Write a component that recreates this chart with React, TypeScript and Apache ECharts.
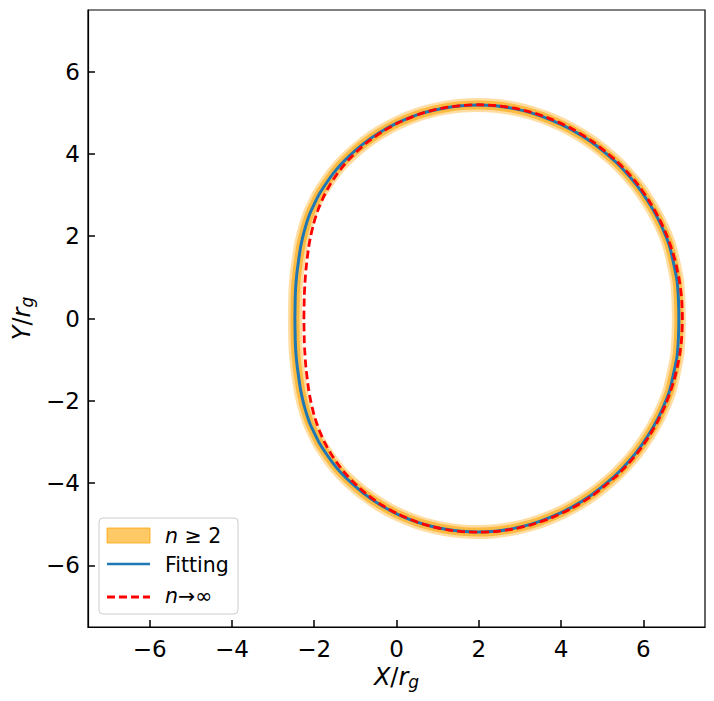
import React, { useEffect, useRef } from 'react';
import * as echarts from 'echarts';

const FONT = 'DejaVu Sans';

// tick labels (both axes)
const tickValues = [-6, -4, -2, 0, 2, 4, 6];

// n >= 2 band (centre line of the orange band)
const bandX = [-2.47, -2.462, -2.45, -2.43, -2.41, -2.335, -2.27, -2.21, -2.15, -2.09, -2.02, -1.88, -1.72, -1.55, -1.36, -1.15, -0.80, -0.41, 0.03, 0.50, 0.845, 1.205, 1.585, 1.98, 2.395, 2.825, 3.278, 3.75, 4.243, 4.756, 5.288, 5.562, 5.84, 6.12, 6.35, 6.52, 6.635, 6.725, 6.805, 6.83, 6.855, 6.865,
  6.855, 6.83, 6.805, 6.725, 6.635, 6.52, 6.35, 6.12, 5.84, 5.562, 5.288, 4.756, 4.243, 3.75, 3.278, 2.825, 2.395, 1.98, 1.585, 1.205, 0.845, 0.50, 0.03, -0.41, -0.80, -1.15, -1.36, -1.55, -1.72, -1.88, -2.02, -2.09, -2.15, -2.21, -2.27, -2.335, -2.41, -2.43, -2.45, -2.462, -2.47];
const bandY = [0, 0.525, 0.78, 1.02, 1.195, 1.715, 2.02, 2.24, 2.43, 2.59, 2.74, 3.02, 3.27, 3.51, 3.74, 3.95, 4.25, 4.52, 4.76, 4.95, 5.05, 5.125, 5.175, 5.19, 5.17, 5.108, 5.00, 4.83, 4.597, 4.278, 3.845, 3.57, 3.243, 2.84, 2.44, 2.07, 1.77, 1.395, 1.01, 0.84, 0.447, 0,
  -0.447, -0.84, -1.01, -1.395, -1.77, -2.07, -2.44, -2.84, -3.243, -3.57, -3.845, -4.278, -4.597, -4.83, -5.00, -5.108, -5.17, -5.19, -5.175, -5.125, -5.05, -4.95, -4.76, -4.52, -4.25, -3.95, -3.74, -3.51, -3.27, -3.02, -2.74, -2.59, -2.43, -2.24, -2.02, -1.715, -1.195, -1.02, -0.78, -0.525, 0];

// Fitting
const fitX = [-2.47, -2.462, -2.45, -2.43, -2.41, -2.335, -2.27, -2.21, -2.15, -2.09, -2.02, -1.88, -1.72, -1.55, -1.36, -1.15, -0.80, -0.41, 0.03, 0.50, 0.845, 1.205, 1.585, 1.98, 2.395, 2.825, 3.278, 3.75, 4.243, 4.756, 5.288, 5.562, 5.84, 6.12, 6.35, 6.52, 6.635, 6.725, 6.805, 6.83, 6.855, 6.865,
  6.855, 6.83, 6.805, 6.725, 6.635, 6.52, 6.35, 6.12, 5.84, 5.562, 5.288, 4.756, 4.243, 3.75, 3.278, 2.825, 2.395, 1.98, 1.585, 1.205, 0.845, 0.50, 0.03, -0.41, -0.80, -1.15, -1.36, -1.55, -1.72, -1.88, -2.02, -2.09, -2.15, -2.21, -2.27, -2.335, -2.41, -2.43, -2.45, -2.462, -2.47];
const fitY = [0, 0.525, 0.78, 1.02, 1.195, 1.715, 2.02, 2.24, 2.43, 2.59, 2.74, 3.02, 3.27, 3.51, 3.74, 3.95, 4.25, 4.52, 4.76, 4.95, 5.05, 5.125, 5.175, 5.19, 5.17, 5.108, 5.00, 4.83, 4.597, 4.278, 3.845, 3.57, 3.243, 2.84, 2.44, 2.07, 1.77, 1.395, 1.01, 0.84, 0.447, 0,
  -0.447, -0.84, -1.01, -1.395, -1.77, -2.07, -2.44, -2.84, -3.243, -3.57, -3.845, -4.278, -4.597, -4.83, -5.00, -5.108, -5.17, -5.19, -5.175, -5.125, -5.05, -4.95, -4.76, -4.52, -4.25, -3.95, -3.74, -3.51, -3.27, -3.02, -2.74, -2.59, -2.43, -2.24, -2.02, -1.715, -1.195, -1.02, -0.78, -0.525, 0];

// n -> infinity
const limX = [-2.252, -2.242, -2.231, -2.215, -2.201, -2.138, -2.083, -2.031, -1.979, -1.925, -1.868, -1.744, -1.603, -1.444, -1.267, -1.070, -0.739, -0.364, 0.056, 0.520, 0.855, 1.210, 1.585, 1.980, 2.395, 2.830, 3.286, 3.761, 4.257, 4.773, 5.308, 5.584, 5.865, 6.143, 6.372, 6.545, 6.66, 6.775, 6.86, 6.89, 6.935, 6.95,
  6.935, 6.89, 6.86, 6.775, 6.66, 6.545, 6.372, 6.143, 5.865, 5.584, 5.308, 4.773, 4.257, 3.761, 3.286, 2.830, 2.395, 1.980, 1.585, 1.210, 0.855, 0.520, 0.056, -0.364, -0.739, -1.070, -1.267, -1.444, -1.603, -1.744, -1.868, -1.925, -1.979, -2.031, -2.083, -2.138, -2.201, -2.215, -2.231, -2.242, -2.252];
const limY = [0, 0.525, 0.781, 1.020, 1.195, 1.715, 2.017, 2.241, 2.426, 2.590, 2.741, 3.018, 3.273, 3.514, 3.743, 3.959, 4.260, 4.530, 4.763, 4.955, 5.055, 5.131, 5.179, 5.196, 5.178, 5.118, 5.012, 4.848, 4.617, 4.299, 3.865, 3.590, 3.260, 2.857, 2.456, 2.084, 1.780, 1.400, 1.013, 0.843, 0.447, 0,
  -0.447, -0.843, -1.013, -1.400, -1.780, -2.084, -2.456, -2.857, -3.260, -3.590, -3.865, -4.299, -4.617, -4.848, -5.012, -5.118, -5.178, -5.196, -5.179, -5.131, -5.055, -4.955, -4.763, -4.530, -4.260, -3.959, -3.743, -3.514, -3.273, -3.018, -2.741, -2.590, -2.426, -2.241, -2.017, -1.715, -1.195, -1.020, -0.781, -0.525, 0];

const pairs = (xs: number[], ys: number[]) => xs.map((x, i) => [x, ys[i]]);

const nameRich = {
  i: { fontStyle: 'italic', fontSize: 24, fontFamily: FONT, color: '#000' },
  t: { fontSize: 24, fontFamily: FONT, color: '#000' },
  s: { fontStyle: 'italic', fontSize: 17, fontFamily: FONT, color: '#000', verticalAlign: 'bottom', padding: [10, 0, 0, 0] },
};

const axisCommon = (name: string, isY: boolean) => ({
  type: 'value',
  min: -7.5,
  max: 7.5,
  name,
  nameLocation: 'middle',
  nameGap: isY ? 50 : 34,
  nameRotate: isY ? 90 : 0,
  nameTextStyle: { fontSize: 24, fontFamily: FONT, color: '#000', rich: nameRich },
  axisLine: { show: true, onZero: false, lineStyle: { color: '#000', width: 1.2 } },
  axisTick: { show: true, inside: true, length: 7, lineStyle: { color: '#000', width: 1.5 }, customValues: tickValues },
  axisLabel: {
    customValues: tickValues,
    formatter: (v: number) => String(v).replace('-', '\u2212'),
    color: '#000',
    fontSize: 23,
    fontFamily: FONT,
    margin: isY ? 8 : 10,
  },
  splitLine: { show: false },
});

export default function App() {
  const ref = useRef<HTMLDivElement>(null);
  useEffect(() => {
    const chart = echarts.init(ref.current!, null, { renderer: 'svg' });
    const legendText = (text: string, y: number) => ({
      type: 'text',
      x: 165,
      y,
      z: 101,
      style: {
        text,
        fontSize: 20.5,
        fontFamily: FONT,
        fill: '#000',
        verticalAlign: 'middle',
        rich: { i: { fontStyle: 'italic', fontSize: 20.5, fontFamily: FONT, fill: '#000' } },
      },
    });
    const SMOOTH = 0.25;
    chart.setOption({
      animation: false,
      backgroundColor: '#fff',
      grid: { left: 88, top: 10, width: 617, height: 617, show: true, borderColor: '#000', borderWidth: 1.2, backgroundColor: 'transparent' },
      xAxis: axisCommon('{i|X}{t|/}{i|r}{s|g}', false),
      yAxis: axisCommon('{i|Y}{t|/}{i|r}{s|g}', true),
      series: [
        {
          type: 'line', data: pairs(bandX, bandY), symbol: 'none', smooth: SMOOTH, z: 1,
          lineStyle: { color: 'rgba(255,180,50,0.45)', width: 14, cap: 'round', join: 'round' },
        },
        {
          type: 'line', data: pairs(bandX, bandY), symbol: 'none', smooth: SMOOTH, z: 2,
          lineStyle: { color: 'rgba(255,165,0,0.6)', width: 9, cap: 'round', join: 'round' },
        },
        {
          type: 'line', data: pairs(fitX, fitY), symbol: 'none', smooth: SMOOTH, z: 3,
          lineStyle: { color: '#1f77b4', width: 3, join: 'round' },
        },
        {
          type: 'line', data: pairs(limX, limY), symbol: 'none', smooth: SMOOTH, z: 4,
          lineStyle: { color: '#ff0000', width: 2.8, type: [8, 4] },
        },
      ],
      graphic: [
        { type: 'rect', z: 100, shape: { x: 99, y: 518, width: 139, height: 96, r: 4 }, style: { fill: 'rgba(255,255,255,0.8)', stroke: '#cccccc', lineWidth: 1 } },
        { type: 'rect', z: 101, shape: { x: 107, y: 528, width: 43, height: 15 }, style: { fill: 'rgba(255,165,0,0.6)', stroke: 'rgba(255,160,0,0.75)', lineWidth: 1 } },
        { type: 'line', z: 101, shape: { x1: 107, y1: 564, x2: 150, y2: 564 }, style: { stroke: '#1f77b4', lineWidth: 2.5 } },
        { type: 'line', z: 101, shape: { x1: 107, y1: 597, x2: 150, y2: 597 }, style: { stroke: '#ff0000', lineWidth: 2.8, lineDash: [8, 4] } },
        legendText('{i|n} \u2265 2', 536),
        legendText('Fitting', 565),
        legendText('{i|n}\u2192\u221e', 596),
      ],
    });
    return () => chart.dispose();
  }, []);
  return <div ref={ref} style={{ position: 'absolute', left: 0, top: 0, width: 714, height: 701 }} />;
}
